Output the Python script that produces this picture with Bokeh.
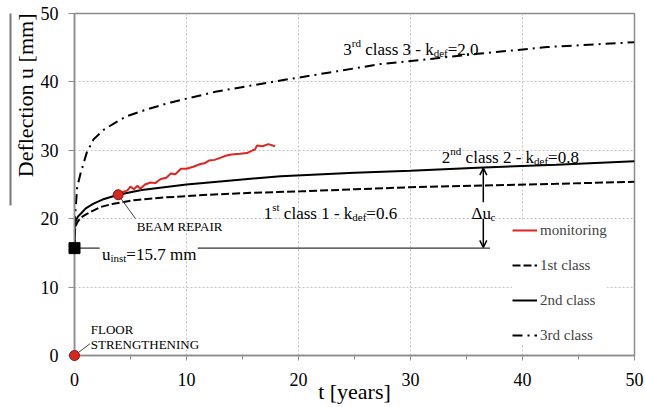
import math
from bokeh.plotting import figure
from bokeh.models import (Label, Arrow, OpenHead, Legend, LegendItem, Range1d, FixedTicker, LinearAxis, Title)
from bokeh.embed import file_html
from bokeh.resources import INLINE

# ---------------- data ----------------
t_1st = [0, 0.02, 0.1, 0.3, 0.6, 1.1, 2.3, 3.5, 5.3, 8, 12, 16, 20.2, 25, 30, 36.5, 43, 50]
u_1st = [15.7, 18.0, 18.9, 19.6, 20.2, 20.7, 21.7, 22.2, 22.7, 23.1, 23.5, 23.8, 24.0, 24.3, 24.6, 24.85, 25.1, 25.4]

t_2nd = [0, 0.02, 0.1, 0.3, 0.6, 1.0, 1.7, 2.5, 3.9, 6, 10, 14, 18.4, 25, 30, 36.5, 43, 50]
u_2nd = [15.7, 18.9, 19.6, 20.3, 20.8, 21.5, 22.2, 22.8, 23.5, 24.2, 25.0, 25.6, 26.2, 26.7, 27.0, 27.5, 27.9, 28.4]

t_3rd = [0, 0.01, 0.05, 0.09, 0.24, 0.54, 1.1, 1.7, 2.6, 3.8, 4.7, 6.5, 8.6, 12.7, 18.4, 22.5, 27.3, 32, 36, 42.2, 50]
u_3rd = [15.7, 19.0, 20.5, 21.2, 24.6, 26.6, 29.7, 31.6, 33.0, 34.2, 35.0, 36.0, 37.0, 38.6, 40.2, 41.3, 42.6, 43.4, 44.1, 45.1, 45.8]

t_mon = [3.9, 4.3, 4.7, 5.0, 5.3, 5.6, 5.9, 6.3, 6.8, 7.2, 7.7, 8.2, 8.6, 9.0, 9.5, 10.0, 10.6, 11.25,
         11.6, 12.0, 12.5, 13.0, 13.5, 14.0, 14.8, 15.4, 15.9, 16.1, 16.3, 16.8, 17.3, 17.9]
u_mon = [23.5, 23.9, 24.1, 24.7, 24.3, 24.8, 24.4, 25.0, 25.3, 25.2, 25.8, 26.0, 26.6, 26.5, 27.3, 27.3, 27.6, 28.0,
         28.1, 28.5, 28.6, 28.9, 29.2, 29.4, 29.5, 29.6, 30.0, 30.1, 30.7, 30.6, 30.9, 30.6]

u_inst = 15.7
floor_t, floor_u = [0], [0]
repair_t, repair_u = [3.9], [23.5]

x_ticks = [0, 10, 20, 30, 40, 50]
x_minor = [5, 15, 25, 35, 45]
y_ticks = [0, 10, 20, 30, 40, 50]

FONT = "Liberation Serif"
GRAY = "#8c8c8c"

p = figure(width=645, height=407, output_backend="svg", toolbar_location=None,
           x_range=Range1d(0, 50), y_range=Range1d(0, 50), title=None,
           min_border_left=74, min_border_right=11, min_border_top=13, min_border_bottom=52)
p.background_fill_color = "white"
p.border_fill_color = "white"
p.outline_line_color = GRAY
p.outline_line_width = 1.5

p.xaxis.ticker = FixedTicker(ticks=x_ticks, minor_ticks=x_minor)
p.yaxis.ticker = FixedTicker(ticks=y_ticks)
for ax in (p.xaxis[0], p.yaxis[0]):
    ax.axis_line_color = GRAY
    ax.axis_line_width = 1.5
    ax.major_tick_line_color = GRAY
    ax.minor_tick_line_color = GRAY
    ax.major_label_text_font = FONT
    ax.major_label_text_font_size = "18px"
    ax.major_label_text_color = "black"
    ax.major_tick_in = 0
    ax.minor_tick_in = 0
    ax.axis_label_text_font = FONT
    ax.axis_label_text_font_size = "22px"
    ax.axis_label_text_font_style = "normal"
    ax.axis_label_text_color = "black"
p.xaxis.major_tick_out = 5
p.xaxis.minor_tick_out = 4
p.xaxis.major_label_standoff = 12
p.xaxis.axis_label = "t [years]"
p.xaxis.axis_label_standoff = -10
p.yaxis.major_tick_out = 6
p.yaxis.minor_tick_line_color = None
p.yaxis.major_label_standoff = 10

# y-axis title, placed towards the top of the axis as in the reference
p.add_layout(Title(text="Deflection u [mm]", align="right", standoff=0, text_font=FONT,
                   text_font_size="22px", text_font_style="normal", text_color="black"), "left")

# thin bar beside the y-axis title (as in the reference)
bar = LinearAxis(ticker=FixedTicker(ticks=[]), bounds=(21.9, 50), axis_line_color="#777777",
                 axis_line_width=2, major_tick_line_color=None, minor_tick_line_color=None,
                 major_label_text_font_size="0px", major_label_standoff=0, axis_label_standoff=0)
p.add_layout(bar, "left")

for g in (p.xgrid[0], p.ygrid[0]):
    g.grid_line_color = "#c4c4c4"
    g.grid_line_dash = "2 2"
    g.grid_line_width = 1

r1 = p.line(t_1st, u_1st, line_color="black", line_width=2, line_dash="8 3")
r2 = p.line(t_2nd, u_2nd, line_color="black", line_width=2)
r3 = p.line(t_3rd, u_3rd, line_color="black", line_width=2, line_dash="10 5 2 5")
rm = p.line(t_mon, u_mon, line_color="#e02424", line_width=2)

# u_inst horizontal reference line (broken around its label)
p.segment(x0=[0, 11.0], y0=[u_inst, u_inst], x1=[2.25, 37.1], y1=[u_inst, u_inst],
          line_color="#333333", line_width=1.4)

# leader lines
p.segment(x0=[0, 3.9], y0=[0, 23.5], x1=[1.37, 5.45], y1=[1.71, 20.0], line_color="#444444", line_width=1)

sq = p.scatter([0], [u_inst], marker="square", size=11, fill_color="black", line_color="black")
d1 = p.scatter(floor_t, floor_u, size=10, fill_color="#d42a1e", line_color="#8a1010", line_width=1)
d2 = p.scatter(repair_t, repair_u, size=10, fill_color="#d42a1e", line_color="#8a1010", line_width=1)
for r in (sq, d1, d2):
    r.level = "overlay"

# arrows for delta u_c
p.add_layout(Arrow(end=OpenHead(size=7, line_width=1.5), x_start=36.5, y_start=22.4, x_end=36.5, y_end=27.4,
                   line_width=1.5, line_color="black"))
p.add_layout(Arrow(end=OpenHead(size=7, line_width=1.5), x_start=36.5, y_start=20.0, x_end=36.5, y_end=15.8,
                   line_width=1.5, line_color="black"))

# rich text helper (Times metrics, per 1000 em)
W = {" ": 250, ".": 250, "=": 564, "-": 333, "Δ": 612, "a": 444, "c": 444, "d": 500, "e": 444, "f": 333,
     "i": 278, "k": 500, "l": 278, "m": 778, "n": 500, "r": 333, "s": 389, "t": 278, "u": 500}


def tw(s, size):
    return sum(W.get(c, 500) for c in s) * size / 1000.0


def rich(x, y, parts):
    dx = 0.0
    for txt, size, dy in parts:
        stripped = txt.lstrip(" ")
        dx += tw(txt[:len(txt) - len(stripped)], size)
        p.add_layout(Label(x=x, y=y, x_offset=dx, y_offset=dy, text=stripped, text_font=FONT,
                           text_font_size=f"{size}px", text_baseline="alphabetic", text_align="left",
                           text_color="black"))
        dx += tw(stripped, size)


rich(24.0, 44.8, [("3", 17, 0), ("rd", 11, 6), (" class 3 - k", 17, 0), ("def", 11, -4), ("=2.0", 17, 0)])
rich(32.8, 29.0, [("2", 17, 0), ("nd", 11, 6), (" class 2 - k", 17, 0), ("def", 11, -4), ("=0.8", 17, 0)])
rich(16.9, 20.8, [("1", 17, 0), ("st", 11, 6), (" class 1 - k", 17, 0), ("def", 11, -4), ("=0.6", 17, 0)])
rich(35.45, 20.8, [("Δu", 17, 0), ("c", 11, -4)])
rich(2.45, 14.8, [("u", 17, 0), ("inst", 11, -4), ("=15.7 mm", 17, 0)])

for txt, x, y in [("BEAM REPAIR", 5.55, 18.9), ("FLOOR", 1.45, 3.87), ("STRENGTHENING", 1.45, 1.68)]:
    p.add_layout(Label(x=x, y=y, text=txt, text_font=FONT, text_font_size="13px",
                       text_baseline="alphabetic", text_align="left", text_color="black"))

legend = Legend(items=[LegendItem(label="monitoring", renderers=[rm]),
                       LegendItem(label="1st class", renderers=[r1]),
                       LegendItem(label="2nd class", renderers=[r2]),
                       LegendItem(label="3rd class", renderers=[r3])],
                location=(438, 10), glyph_width=25, glyph_height=20, label_height=20, spacing=15,
                padding=8, margin=0, label_standoff=3, border_line_color=None,
                background_fill_color="white", background_fill_alpha=1.0,
                label_text_font=FONT, label_text_font_size="15px")
p.add_layout(legend)

open("out.html", "w").write(file_html(p, INLINE))
